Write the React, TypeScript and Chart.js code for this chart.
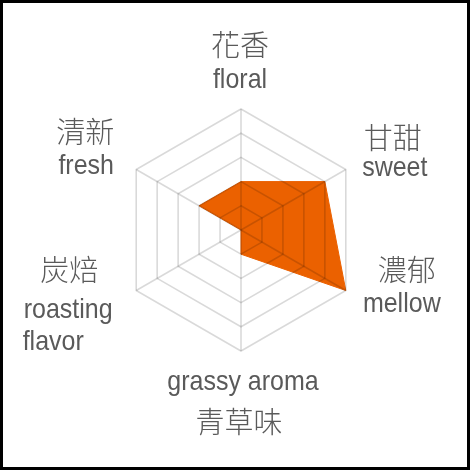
import { useEffect, useRef } from "react";
import { Chart, registerables } from "chart.js";

Chart.register(...registerables);

const categories = ["floral", "sweet", "mellow", "grassy aroma", "roasting flavor", "fresh"];
const flavorScores = [2, 4, 5, 1, 0, 2];
const scaleMax = 5;

const zhLabels = ["花香", "甘甜", "濃郁", "青草味", "炭焙", "清新"];
const enLabels = [["floral"], ["sweet"], ["mellow"], ["grassy aroma"], ["roasting", "flavor"], ["fresh"]];

// text offsets from each axis' outer vertex
const zhOffsets = [[-1, -64], [47, -32], [61, -21], [-2, 71], [-67, -21], [-51, -38]];
const enOffsets = [[[-1, -21]], [[49, 6]], [[56, 21]], [[2, 39]], [[-68, 27], [-83, 59]], [[-50, 4]]];

const labelPlugin = {
  id: "twoLangLabels",
  afterDraw(chart: any) {
    const scale = chart.scales.r;
    const ctx = chart.ctx;
    ctx.save();
    ctx.fillStyle = "#5a5a5a";
    ctx.textAlign = "center";
    categories.forEach((_, i) => {
      const p = scale.getPointPosition(i, scale.drawingArea);
      ctx.font = "300 29px 'Noto Sans CJK TC'";
      ctx.textBaseline = "middle";
      ctx.fillText(zhLabels[i], p.x + zhOffsets[i][0], p.y + zhOffsets[i][1]);
      ctx.font = "25px 'Liberation Sans'";
      ctx.textBaseline = "alphabetic";
      enLabels[i].forEach((line, j) => {
        ctx.save();
        ctx.translate(p.x + enOffsets[i][j][0], p.y + enOffsets[i][j][1]);
        ctx.scale(1, 1.12);
        ctx.fillText(line, 0, 0);
        ctx.restore();
      });
    });
    ctx.restore();
  },
};

const App = () => {
  const chartRef = useRef<HTMLCanvasElement>(null);

  useEffect(() => {
    if (!chartRef.current) return;
    const chart = new Chart(chartRef.current, {
      type: "radar",
      data: {
        labels: categories,
        datasets: [
          {
            data: flavorScores,
            backgroundColor: "#eb6100",
            borderColor: "#eb6100",
            borderWidth: 1,
            pointRadius: 0,
            fill: true,
          },
        ],
      },
      options: {
        responsive: true,
        maintainAspectRatio: false,
        animation: false,
        layout: { padding: { left: 120, right: 108, top: 109, bottom: 119 } },
        plugins: { legend: { display: false }, tooltip: { enabled: false } },
        scales: {
          r: {
            min: 0,
            max: scaleMax,
            ticks: { display: false, stepSize: 1 },
            pointLabels: { display: false },
            grid: { color: "rgba(0,0,0,0.15)", lineWidth: 1.6, z: 1 },
            angleLines: { color: "rgba(0,0,0,0.15)", lineWidth: 1.6 },
          },
        },
      },
      plugins: [labelPlugin],
    });
    return () => chart.destroy();
  }, []);

  return (
    <div style={{ position: "fixed", left: 0, top: 0, width: 470, height: 470, background: "#fff" }}>
      <canvas ref={chartRef}></canvas>
      <div
        style={{
          position: "absolute",
          inset: 0,
          border: "3px solid #000",
          boxSizing: "border-box",
          pointerEvents: "none",
        }}
      />
    </div>
  );
};

export default App;
